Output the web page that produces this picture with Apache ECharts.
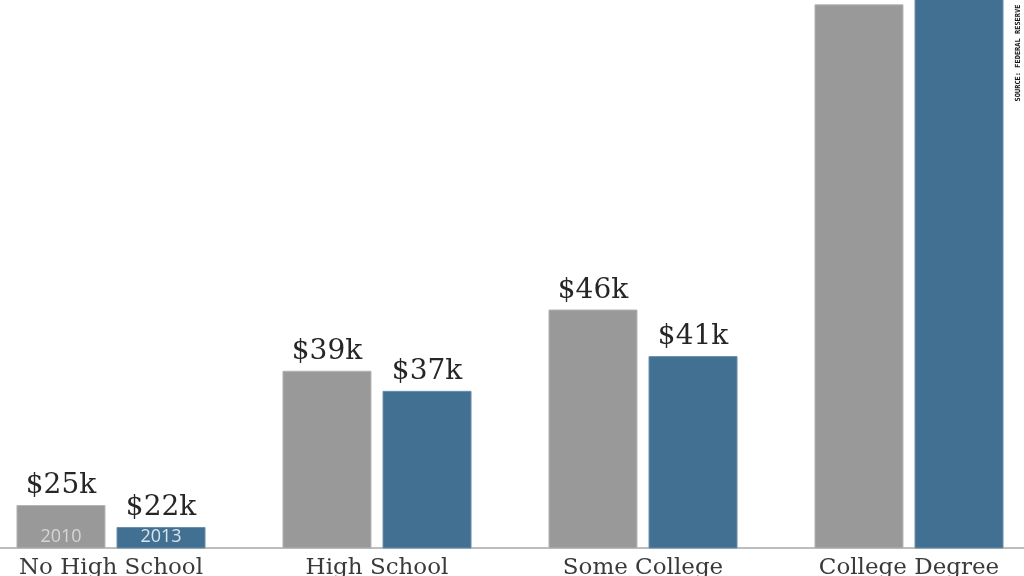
<!DOCTYPE html>
<html>
<head>
<meta charset="utf-8">
<script src="https://cdn.jsdelivr.net/npm/echarts@6/dist/echarts.min.js"></script>
<style>
html,body{margin:0;padding:0;background:#fff;overflow:hidden;width:1024px;height:576px;}
#wrap{position:relative;width:1024px;height:576px;overflow:hidden;}
#c{position:absolute;left:-22px;top:-183px;width:1064px;height:759px;}
</style>
</head>
<body>
<div id="wrap"><div id="c"></div></div>
<script>
const categories = ['No High School', 'High School', 'Some College', 'College Degree'];
const values2010 = [24.7, 39.4, 46.1, 79.5];
const values2013 = [22.3, 37.2, 41.0, 84];
const seriesNames = ['2010', '2013'];
const sourceText = 'SOURCE: FEDERAL RESERVE';

const OX = 22, OY = 183; // offset of chart canvas relative to page
const chart = echarts.init(document.getElementById('c'), null, {renderer: 'canvas'});
const labelStyle = {
  show: true, position: 'top', distance: 5,
  fontFamily: 'DejaVu Serif', fontSize: 28, color: '#262626',
  formatter: p => '$' + Math.round(p.value) + 'k'
};
chart.setOption({
  animation: false,
  backgroundColor: '#fff',
  grid: {left: 0, right: 0, top: 0, bottom: 28, containLabel: false, outerBoundsMode: 'none'},
  xAxis: {
    type: 'category', data: categories,
    axisLine: {lineStyle: {color: '#bdbdbd', width: 2}},
    axisTick: {show: false},
    axisLabel: {fontFamily: 'DejaVu Serif', fontSize: 23, color: '#3a3a3a', margin: 9}
  },
  yAxis: {
    type: 'value', min: 20, max: 100,
    show: false, splitLine: {show: false}
  },
  series: [
    {name: seriesNames[0], type: 'bar', data: values2010, barWidth: 89, barGap: '12.4%',
     itemStyle: {color: '#999999', borderColor: '#b3b3b3', borderWidth: 1},
     label: labelStyle},
    {name: seriesNames[1], type: 'bar', data: values2013, barWidth: 89,
     itemStyle: {color: '#427093', borderColor: '#6a8eaa', borderWidth: 1},
     label: labelStyle}
  ]
});

const cx = chart.convertToPixel({xAxisIndex: 0}, categories[0]);
const yb = chart.convertToPixel({yAxisIndex: 0}, 20);
const off = (89 + 11) / 2;
chart.setOption({
  graphic: [
    {type: 'text', x: cx - off, y: yb - 11, z: 100,
     style: {text: seriesNames[0], fill: '#d6d6d6', font: '18px "Open Sans", sans-serif', align: 'center', verticalAlign: 'middle'}},
    {type: 'text', x: cx + off, y: yb - 11, z: 100,
     style: {text: seriesNames[1], fill: '#dbe3ea', font: '18px "Open Sans", sans-serif', align: 'center', verticalAlign: 'middle'}},
    {type: 'text', x: 1018 + OX, y: 53 + OY, rotation: Math.PI / 2, z: 100,
     style: {text: sourceText, fill: '#111', font: 'bold 7px "DejaVu Sans Mono", monospace', align: 'center', verticalAlign: 'middle'}}
  ]
});
</script>
</body>
</html>
